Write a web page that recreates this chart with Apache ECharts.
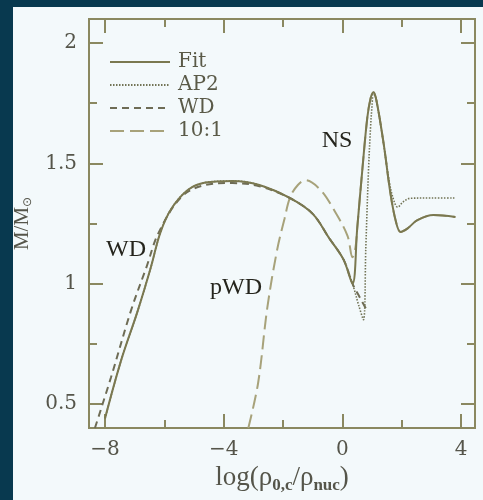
<!DOCTYPE html>
<html>
<head>
<meta charset="utf-8">
<script src="https://cdn.jsdelivr.net/npm/echarts@6/dist/echarts.min.js"></script>
<style>
html,body{margin:0;padding:0;background:#08394f;}
#c{width:483px;height:500px;}
</style>
</head>
<body>
<div id="c"></div>
<script>
// ---- data ----
const seriesNames = ['Fit', 'AP2', 'WD', '10:1'];
const xMajorTicks = [-8, -4, 0, 4];
const xMinorTicks = [-6, -2, 2];
const yMajorTicks = [0.5, 1, 1.5, 2];
const yMinorTicks = [0.75, 1.25, 1.75];

const fitData = [
  [-8.0, 0.44], [-7.46, 0.68], [-6.89, 0.89], [-6.45, 1.07], [-6.14, 1.21],
  [-5.77, 1.31], [-5.2, 1.39], [-4.62, 1.42], [-3.7, 1.427], [-2.8, 1.41],
  [-1.76, 1.355], [-1.0, 1.29], [-0.45, 1.19], [0.04, 1.10], [0.34, 1.0],
  [0.5, 1.23], [0.67, 1.47], [0.84, 1.69], [0.95, 1.77], [1.045, 1.796],
  [1.15, 1.76], [1.39, 1.583], [1.62, 1.375], [1.8, 1.26], [1.96, 1.215],
  [2.2, 1.23], [2.53, 1.264], [3.07, 1.285], [3.81, 1.277]
];
const ap2Data = [
  [-8.0, 0.44], [-7.46, 0.68], [-6.89, 0.89], [-6.45, 1.07], [-6.14, 1.21],
  [-5.77, 1.31], [-5.2, 1.39], [-4.62, 1.42], [-3.7, 1.427], [-2.8, 1.41],
  [-1.76, 1.355], [-1.0, 1.29], [-0.45, 1.19], [0.04, 1.10], [0.34, 1.0],
  [0.55, 0.91], [0.71, 0.85], [0.79, 1.15], [0.88, 1.47], [0.95, 1.65],
  [1.0, 1.74], [1.045, 1.795], [1.15, 1.76], [1.39, 1.58], [1.6, 1.41],
  [1.75, 1.34], [1.86, 1.318], [2.05, 1.34], [2.3, 1.355], [3.0, 1.356], [3.8, 1.356]
];
const wdData = [
  [-8.34, 0.40], [-7.8, 0.61], [-7.12, 0.89], [-6.6, 1.07], [-6.2, 1.21],
  [-5.43, 1.36], [-4.62, 1.41], [-3.7, 1.418], [-2.8, 1.405], [-1.76, 1.355],
  [-1.0, 1.29], [-0.45, 1.19], [0.04, 1.10], [0.34, 1.0], [0.6, 0.94], [0.82, 0.89]
];
const mixData = [
  [-3.17, 0.40], [-2.84, 0.587], [-2.53, 0.90], [-2.2, 1.14], [-1.95, 1.27],
  [-1.76, 1.36], [-1.5, 1.41], [-1.25, 1.43], [-0.74, 1.39], [-0.3, 1.31],
  [0.17, 1.2], [0.34, 1.11], [0.44, 1.15], [0.5, 1.23], [0.67, 1.47],
  [0.84, 1.69], [0.95, 1.77], [1.045, 1.796], [1.15, 1.76], [1.39, 1.583],
  [1.62, 1.375], [1.8, 1.26], [1.96, 1.215], [2.2, 1.23], [2.53, 1.264],
  [3.07, 1.285], [3.81, 1.277]
];

// ---- styling ----
const AX = '#8a8860';
const TXT = '#55554a';
const FONT = 'DejaVu Serif';
const XMIN = -8.54, XMAX = 4.47, YMIN = 0.4, YMAX = 2.1;

function xAx(pos, ticks, len, labels) {
  return {
    type: 'value', position: pos, min: XMIN, max: XMAX,
    axisLine: {show: true, onZero: false, lineStyle: {color: AX, width: 2}},
    axisTick: {show: true, inside: true, length: len, customValues: ticks, lineStyle: {color: AX, width: 2}},
    axisLabel: labels ? {show: true, customValues: ticks, margin: 12, color: TXT, fontFamily: FONT, fontSize: 20,
      formatter: v => String(v).replace('-', '\u2212')} : {show: false},
    splitLine: {show: false}
  };
}
function yAx(pos, ticks, len, labels) {
  return {
    type: 'value', position: pos, min: YMIN, max: YMAX,
    axisLine: {show: true, onZero: false, lineStyle: {color: AX, width: 2}},
    axisTick: {show: true, inside: true, length: len, customValues: ticks, lineStyle: {color: AX, width: 2}},
    axisLabel: labels ? {show: true, customValues: ticks, margin: 12, color: TXT, fontFamily: FONT, fontSize: 20,
      formatter: v => String(v)} : {show: false},
    splitLine: {show: false}
  };
}

const xAxes = [xAx('bottom', xMajorTicks, 14, true), xAx('bottom', xMinorTicks, 8, false),
               xAx('top', xMajorTicks, 14, false), xAx('top', xMinorTicks, 8, false)];
xAxes[0].name = '{n|log(\u03c1}{s|0,c}{n|/\u03c1}{s|nuc}{n|)}';
xAxes[0].nameLocation = 'middle';
xAxes[0].nameGap = 34;
xAxes[0].nameTextStyle = {rich: {
  n: {fontFamily: 'Liberation Serif', fontSize: 27, color: TXT},
  s: {fontFamily: 'Liberation Serif', fontSize: 17, color: TXT, fontWeight: 'bold', padding: [14, 0, 0, 0]}
}};
const yAxes = [yAx('left', yMajorTicks, 14, true), yAx('left', yMinorTicks, 8, false),
               yAx('right', yMajorTicks, 14, false), yAx('right', yMinorTicks, 8, false)];
yAxes[0].name = '{n|M/M}{s|\u2299}';
yAxes[0].nameLocation = 'middle';
yAxes[0].nameGap = 54;
yAxes[0].nameTextStyle = {rich: {
  n: {fontFamily: 'Liberation Serif', fontSize: 21, color: TXT},
  s: {fontFamily: 'DejaVu Sans', fontSize: 12, color: TXT, padding: [12, 0, 0, 0]}
}};

const lineStyles = {
  'Fit': {color: '#7a7850', width: 2, type: 'solid'},
  'AP2': {color: '#727456', width: 1.6, type: [1.5, 1.5]},
  'WD': {color: '#6e6c55', width: 2, type: [7, 5]},
  '10:1': {color: '#a7a27a', width: 2, type: [14, 6]}
};
const dataMap = {'Fit': fitData, 'AP2': ap2Data, 'WD': wdData, '10:1': mixData};

const series = seriesNames.map((n, i) => ({
  name: n, type: 'line', data: dataMap[n], xAxisIndex: 0, yAxisIndex: 0,
  showSymbol: false, symbol: 'none', smooth: 0.35, animation: false,
  lineStyle: lineStyles[n], itemStyle: {color: lineStyles[n].color},
  z: 10 - i
}));

const chart = echarts.init(document.getElementById('c'), null, {renderer: 'canvas'});
chart.setOption({
  backgroundColor: '#08394f',
  animation: false,
  grid: {left: 89, right: 8, top: 19, bottom: 72, containLabel: false},
  xAxis: xAxes,
  yAxis: yAxes,
  legend: {
    data: seriesNames, orient: 'vertical', left: 104, top: 47,
    itemWidth: 60, itemHeight: 10, itemGap: 3, selectedMode: false,
    itemStyle: {opacity: 0},
    textStyle: {fontFamily: FONT, fontSize: 20, color: '#5a5a48', padding: [0, 0, 0, 3]}
  },
  graphic: {elements: [
    {type: 'rect', shape: {x: 13, y: 7, width: 480, height: 500}, style: {fill: '#f3f9fb'}, z: -100, silent: true},
    {type: 'text', x: 126, y: 250, style: {text: 'WD', font: '24px "Liberation Serif"', fill: '#25251d', align: 'center', verticalAlign: 'middle'}, z: 100},
    {type: 'text', x: 236, y: 288, style: {text: 'pWD', font: '24px "Liberation Serif"', fill: '#25251d', align: 'center', verticalAlign: 'middle'}, z: 100},
    {type: 'text', x: 337, y: 141, style: {text: 'NS', font: '24px "Liberation Serif"', fill: '#25251d', align: 'center', verticalAlign: 'middle'}, z: 100}
  ]},
  series: series
});
</script>
</body>
</html>
